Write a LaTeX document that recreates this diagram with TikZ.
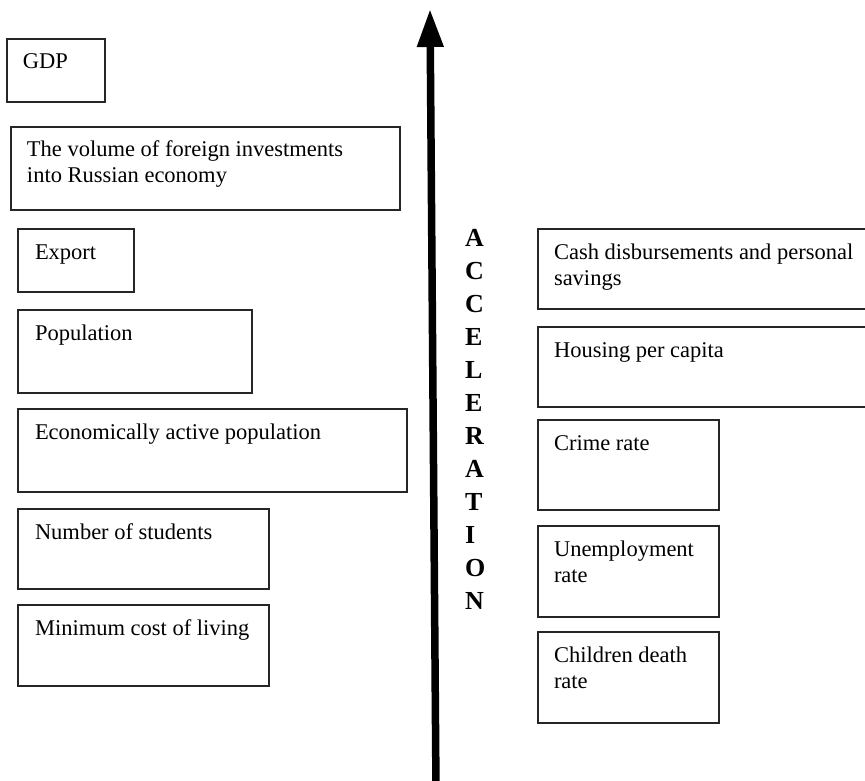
\documentclass[tikz,border=0pt]{standalone}
\usepackage{fontspec}
\setmainfont{Liberation Serif}
\usetikzlibrary{arrows.meta}
\tikzset{
  box/.style={draw=black!85, line width=1.3pt, rectangle, inner sep=0pt, outer sep=0pt, anchor=north west},
  txt/.style={inner sep=0pt, outer sep=0pt, anchor=base west, font=\fontsize{22.5}{26}\selectfont},
  letter/.style={inner sep=0pt, outer sep=0pt, anchor=base west, font=\fontsize{26}{30}\selectfont\bfseries},
  bigarrow/.style={line width=7.5pt, -{Triangle[length=38pt,width=25pt]}}
}
\newcommand{\twolines}[2]{\parbox[t]{400pt}{\fontsize{22.5}{26}\selectfont\raggedright #1\\#2}}
\begin{document}
\begin{tikzpicture}[x=1pt,y=-1pt]
\useasboundingbox (0,0) rectangle (865,781);
\clip (0,0) rectangle (865,781);
\fill[white] (0,0) rectangle (865,781);
% left boxes
\node[box, minimum width=98, minimum height=63] (gdp) at (7,39) {};
\node[txt] (gdpt) at ([xshift=16pt,yshift=-30pt]gdp.north west) {GDP};
\node[box, minimum width=389, minimum height=83] (fdi) at (11,127) {};
\node[txt] (fdit) at ([xshift=16pt,yshift=-30pt]fdi.north west) {\twolines{The volume of foreign investments}{into Russian economy}};
\node[box, minimum width=116, minimum height=63] (exp) at (18,229) {};
\node[txt] (expt) at ([xshift=17pt,yshift=-30pt]exp.north west) {Export};
\node[box, minimum width=234, minimum height=83] (pop) at (18,310) {};
\node[txt] (popt) at ([xshift=17pt,yshift=-30pt]pop.north west) {Population};
\node[box, minimum width=389, minimum height=83] (eap) at (18,409) {};
\node[txt] (eapt) at ([xshift=17pt,yshift=-30pt]eap.north west) {Economically active population};
\node[box, minimum width=251, minimum height=80] (stud) at (18,509) {};
\node[txt] (studt) at ([xshift=17pt,yshift=-30pt]stud.north west) {Number of students};
\node[box, minimum width=251, minimum height=81] (minc) at (18,605) {};
\node[txt] (minct) at ([xshift=17pt,yshift=-30pt]minc.north west) {Minimum cost of living};
% right boxes
\node[box, minimum width=340, minimum height=80] (cash) at (538,229) {};
\node[txt] (casht) at ([xshift=16pt,yshift=-30pt]cash.north west) {\twolines{Cash disbursements and personal}{savings}};
\node[box, minimum width=340, minimum height=80] (hous) at (538,327) {};
\node[txt] (houst) at ([xshift=16pt,yshift=-30pt]hous.north west) {Housing per capita};
\node[box, minimum width=181, minimum height=90] (crime) at (538,420) {};
\node[txt] (crimet) at ([xshift=16pt,yshift=-30pt]crime.north west) {Crime rate};
\node[box, minimum width=181, minimum height=91] (unem) at (538,526) {};
\node[txt] (unemt) at ([xshift=16pt,yshift=-30pt]unem.north west) {\twolines{Unemployment}{rate}};
\node[box, minimum width=181, minimum height=91] (child) at (538,632) {};
\node[txt] (childt) at ([xshift=16pt,yshift=-30pt]child.north west) {\twolines{Children death}{rate}};
% arrow
\coordinate (abot) at (436,790);
\coordinate (atop) at (430,9);
\draw[bigarrow] (abot) -- (atop);
% ACCELERATION
\node[letter] (l1) at (465,246) {A};
\node[letter] (l2) at (465,279) {C};
\node[letter] (l3) at (465,312) {C};
\node[letter] (l4) at (465,345) {E};
\node[letter] (l5) at (465,378) {L};
\node[letter] (l6) at (465,411) {E};
\node[letter] (l7) at (465,444) {R};
\node[letter] (l8) at (465,477) {A};
\node[letter] (l9) at (465,510) {T};
\node[letter] (l10) at (465,543) {I};
\node[letter] (l11) at (465,576) {O};
\node[letter] (l12) at (465,609) {N};
\end{tikzpicture}
\end{document}
